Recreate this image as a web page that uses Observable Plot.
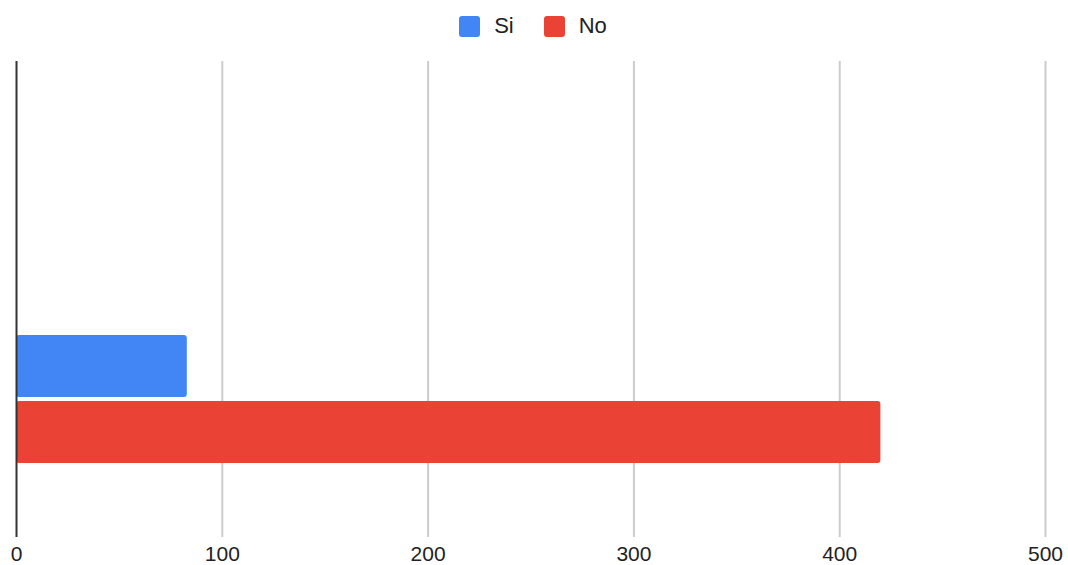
<!DOCTYPE html>
<html>
<head>
<meta charset="utf-8">
<script src="https://cdn.jsdelivr.net/npm/d3@7"></script>
<script src="https://cdn.jsdelivr.net/npm/@observablehq/plot@0.6"></script>
<style>
  html, body { margin: 0; padding: 0; background: #fff; }
  body { width: 1068px; height: 565px; overflow: hidden; font-family: "Liberation Sans", Arial, sans-serif; }
  #legend { height: 48px; display: flex; justify-content: center; align-items: center; gap: 30px; padding-right: 2px; box-sizing: border-box; padding-top: 4px; }
  .item { display: flex; align-items: center; gap: 14px; font-size: 22px; color: #222; }
  .sw { width: 21px; height: 21px; border-radius: 3px; }
</style>
</head>
<body>
<div id="legend"></div>
<div id="chart"></div>
<script>
const series = ["Si", "No"];
const values = [83, 420];
const colors = ["#4285f4", "#ea4335"];
const xTicks = [0, 100, 200, 300, 400, 500];

const data = series.map((s, i) => ({series: s, value: values[i]}));

const legend = document.getElementById("legend");
series.forEach((s, i) => {
  const it = document.createElement("div");
  it.className = "item";
  const sw = document.createElement("div");
  sw.className = "sw";
  sw.style.background = colors[i];
  const t = document.createElement("span");
  t.textContent = s;
  it.appendChild(sw); it.appendChild(t);
  legend.appendChild(it);
});

const chart = Plot.plot({
  width: 1068,
  height: 517,
  marginTop: 13,
  marginBottom: 28,
  marginLeft: 16,
  marginRight: 23,
  style: {fontFamily: "'Liberation Sans', Arial, sans-serif", fontSize: "21px", color: "#222", background: "#fff"},
  x: {domain: [0, 500], ticks: xTicks, tickSize: 0, tickPadding: 9, label: null, tickFormat: d => String(d)},
  y: {domain: series, paddingInner: 0.06, paddingOuter: 2.636, align: 0.787, axis: null},
  color: {domain: series, range: colors},
  marks: [
    Plot.ruleX(xTicks.slice(1), {stroke: "#cccccc", strokeWidth: 2}),
    Plot.barX(data, {x: "value", y: "series", fill: "series", rx: 3}),
    Plot.ruleX([0], {stroke: "#333333", strokeWidth: 2})
  ]
});
document.getElementById("chart").appendChild(chart);
</script>
</body>
</html>
